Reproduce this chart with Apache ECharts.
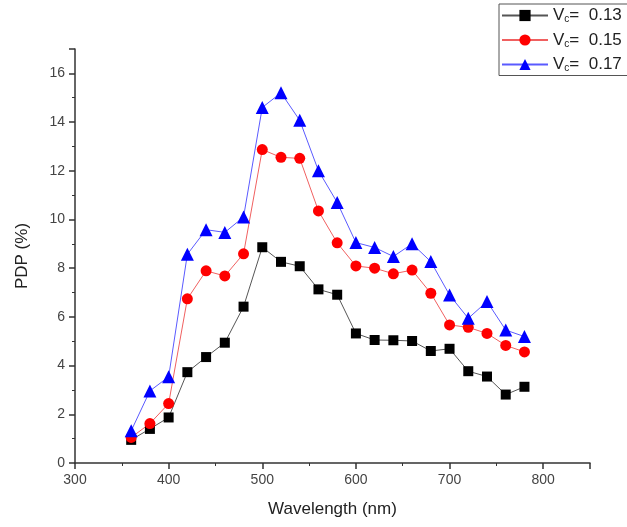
<!DOCTYPE html>
<html>
<head>
<meta charset="utf-8">
<script src="https://cdn.jsdelivr.net/npm/echarts@6/dist/echarts.min.js"></script>
<style>
  html, body { margin: 0; padding: 0; background: #fff; }
  #chart { width: 627px; height: 527px; }
</style>
</head>
<body>
<div id="chart"></div>
<script>
// wavelength (nm)
const wavelengths = [360, 380, 400, 420, 440, 460, 480, 500, 520, 540, 560, 580, 600, 620, 640, 660, 680, 700, 720, 740, 760, 780]
// PDP (%) per Vc
const pdp013 = [0.95, 1.4, 1.87, 3.73, 4.35, 4.94, 6.42, 8.86, 8.26, 8.08, 7.13, 6.91, 5.32, 5.05, 5.04, 5.01, 4.6, 4.69, 3.77, 3.55, 2.81, 3.13]
const pdp015 = [1.05, 1.62, 2.44, 6.74, 7.89, 7.68, 8.59, 12.87, 12.55, 12.51, 10.35, 9.04, 8.09, 8.0, 7.77, 7.92, 6.97, 5.67, 5.57, 5.32, 4.83, 4.56]
const pdp017 = [1.32, 2.96, 3.54, 8.57, 9.58, 9.47, 10.1, 14.6, 15.2, 14.07, 12.0, 10.7, 9.05, 8.85, 8.48, 9.0, 8.27, 6.9, 5.94, 6.63, 5.46, 5.19]
const seriesNames = ['0.13', '0.15', '0.17']

const chart = echarts.init(document.getElementById('chart'))

const toPairs = vals => wavelengths.map((w, i) => [w, vals[i]])

const axisColor = '#333'
const font = 'Liberation Sans, Arial, sans-serif'

const option = {
  animation: false,
  grid: {
    left: 75,
    right: 37,
    top: 49,
    bottom: 64
  },
  legend: {
    orient: 'vertical',
    left: 499,
    top: 4,
    padding: [3, 8, 2, 2],
    itemWidth: 46,
    itemHeight: 14,
    itemGap: 7,
    borderColor: '#555',
    borderWidth: 1,
    data: seriesNames,
    formatter: name => 'V{s|c}=  ' + name,
    textStyle: {
      fontFamily: font,
      fontSize: 17,
      color: '#222',
      rich: {
        s: { fontSize: 10, verticalAlign: 'bottom', padding: [8, 0, 0, 0], color: '#222' }
      }
    }
  },
  xAxis: {
    type: 'value',
    min: 300,
    max: 850,
    interval: 100,
    name: 'Wavelength (nm)',
    nameLocation: 'middle',
    nameGap: 38,
    nameTextStyle: { fontFamily: font, fontSize: 17, color: '#222' },
    axisLine: { show: true, lineStyle: { color: axisColor, width: 1.5 } },
    axisTick: { show: true, length: 6, lineStyle: { color: axisColor, width: 1.5 } },
    minorTick: { show: true, splitNumber: 2, length: 3, lineStyle: { color: axisColor } },
    axisLabel: { showMaxLabel: false, fontFamily: font, fontSize: 14, color: '#444', margin: 10 },
    splitLine: { show: false }
  },
  yAxis: {
    type: 'value',
    min: 0,
    max: 17,
    interval: 2,
    name: 'PDP (%)',
    nameLocation: 'middle',
    nameGap: 44,
    nameTextStyle: { fontFamily: font, fontSize: 17, color: '#222' },
    axisLine: { show: true, lineStyle: { color: axisColor, width: 1.5 } },
    axisTick: { show: true, length: 6, lineStyle: { color: axisColor, width: 1.5 } },
    minorTick: { show: true, splitNumber: 2, length: 3, lineStyle: { color: axisColor } },
    axisLabel: { showMaxLabel: false, fontFamily: font, fontSize: 14, color: '#444', margin: 10 },
    splitLine: { show: false }
  },
  series: [
    {
      name: seriesNames[0],
      type: 'line',
      data: toPairs(pdp013),
      symbol: 'rect',
      symbolSize: 10,
      itemStyle: { color: '#000' },
      lineStyle: { color: '#555', width: 1 }
    },
    {
      name: seriesNames[1],
      type: 'line',
      data: toPairs(pdp015),
      symbol: 'circle',
      symbolSize: 11,
      itemStyle: { color: '#ff0000' },
      lineStyle: { color: '#f06060', width: 1 }
    },
    {
      name: seriesNames[2],
      type: 'line',
      data: toPairs(pdp017),
      symbol: 'triangle',
      symbolSize: 13,
      itemStyle: { color: '#0000ff' },
      lineStyle: { color: '#5a5aff', width: 1 }
    }
  ]
}

chart.setOption(option)
</script>
</body>
</html>
